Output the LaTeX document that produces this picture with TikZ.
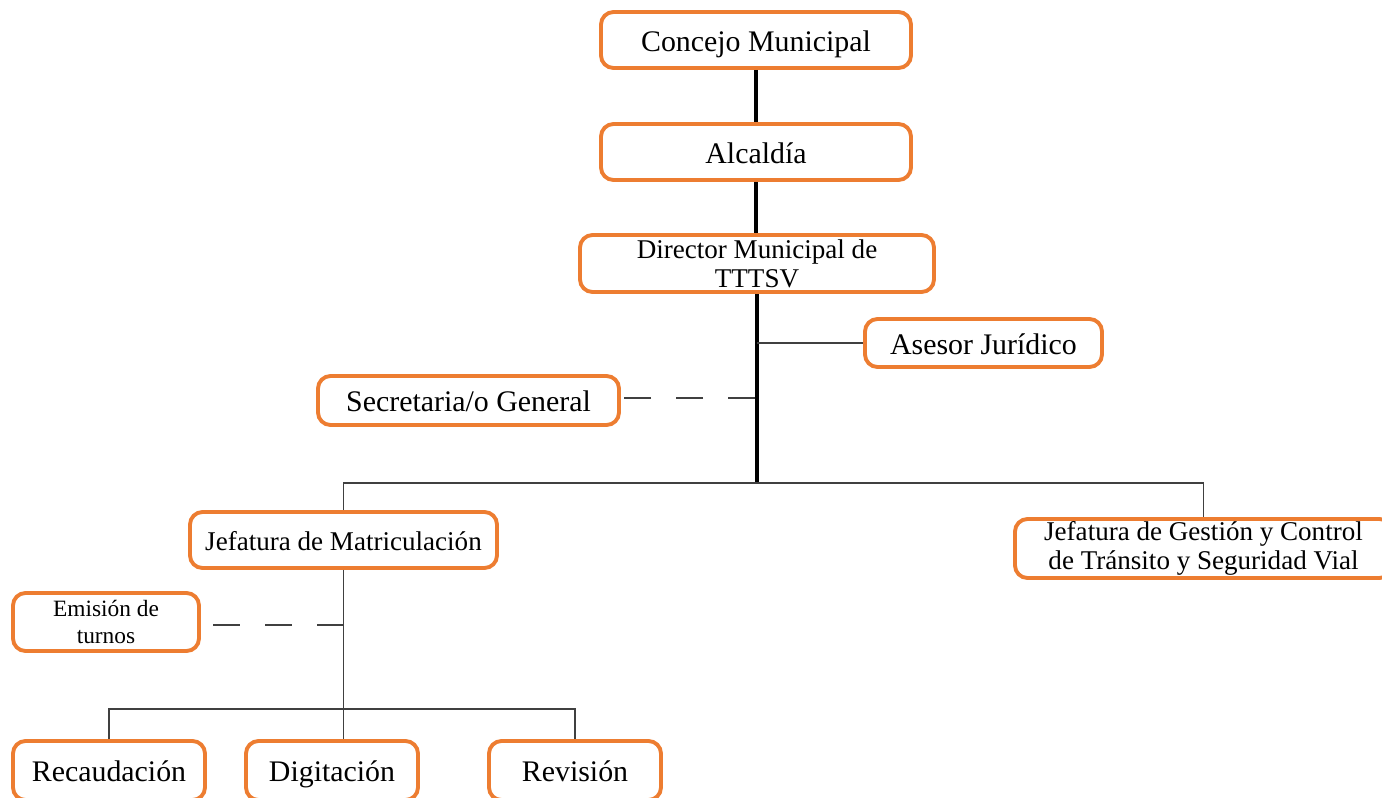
\documentclass[tikz,border=0pt]{standalone}
\usepackage{fontspec}
\setmainfont{Liberation Serif}
\usepackage{xcolor}
\usepackage{tikz}
\usetikzlibrary{positioning, calc}
\definecolor{boxOrange}{HTML}{ED7D31}
\definecolor{lineGray}{HTML}{404040}

\tikzset{
  orgbox/.style={draw=boxOrange, line width=2.2pt, rounded corners=2.5mm, fill=white,
    align=center, inner sep=1pt, font=\fontsize{17}{20}\selectfont},
  onebox/.style={orgbox, text height=15pt, text depth=2pt},
  smallbox/.style={orgbox, font=\fontsize{15.4}{16.6}\selectfont},
  spine/.style={line width=2pt, black},
  link/.style={line width=0.8pt, lineGray},
  dashlink/.style={link, dash pattern=on 0.54cm off 0.5cm}
}

\begin{document}
\begin{tikzpicture}
        \useasboundingbox (0,0) rectangle (27.64,-15.96);
        \clip (0,0) rectangle (27.64,-15.96);
        % upper chain
        \node[onebox, minimum width=6.2cm, minimum height=1.12cm] (concejo) at (15.12,-0.80) {Concejo Municipal};
        \node[onebox, minimum width=6.2cm, minimum height=1.12cm] (alcaldia) at (15.12,-3.04) {Alcaldía};
        \node[smallbox, minimum width=7.08cm, minimum height=1.14cm] (director) at (15.14,-5.27) {Director Municipal de\\TTTSV};
        \node[onebox, minimum width=4.74cm, minimum height=0.96cm] (asesor) at (19.67,-6.86) {Asesor Jurídico};
        \node[onebox, minimum width=6.02cm, minimum height=0.98cm] (secretaria) at (9.37,-8.01) {Secretaria/o General};
        % jefaturas
        \node[smallbox, text height=13pt, text depth=1.5pt, minimum width=6.14cm, minimum height=1.12cm] (matric) at (6.87,-10.80) {Jefatura de Matriculación};
        \node[smallbox, minimum width=7.54cm, minimum height=1.18cm] (gestion) at (24.07,-10.97) {Jefatura de Gestión y Control\\de Tránsito y Seguridad Vial};
        \node[orgbox, font=\fontsize{13.3}{15.5}\selectfont, minimum width=3.72cm, minimum height=1.16cm] (emision) at (2.12,-12.44) {Emisión de\\turnos};
        % areas
        \node[onebox, minimum width=3.84cm, minimum height=1.18cm] (recaud) at (2.18,-15.41) {Recaudación};
        \node[onebox, minimum width=3.44cm, minimum height=1.18cm] (digit) at (6.64,-15.41) {Digitación};
        \node[onebox, minimum width=3.44cm, minimum height=1.18cm] (revision) at (11.50,-15.41) {Revisión};

        \coordinate (bus) at ($(director.south)+(0,-3.78)$);
        \coordinate (subbus) at ($(matric.south)+(0,-2.78)$);
        % connectors
        \draw[spine] (concejo.south) -- (concejo.south |- alcaldia.north);
        \draw[spine] (alcaldia.south) -- (alcaldia.south |- director.north);
        \draw[spine] (director.south) -- (bus);
        \draw[link] (director.south |- asesor.west) -- (asesor.west);
        \draw[dashlink] ($(director.south |- secretaria.east)+(-0.04,0.05)$) -- ($(secretaria.east)+(0,0.05)$);
        \draw[link] (matric.north) |- (bus) -| (gestion.north);
        \draw[link] (matric.south) -- (matric.south |- digit.north);
        \draw[dashlink] ($(matric.south |- emision.east)+(0,-0.06)$) -- ($(emision.east)+(0,-0.06)$);
        \draw[link] (recaud.north) |- (subbus) -| (revision.north);
      \end{tikzpicture}
\end{document}
